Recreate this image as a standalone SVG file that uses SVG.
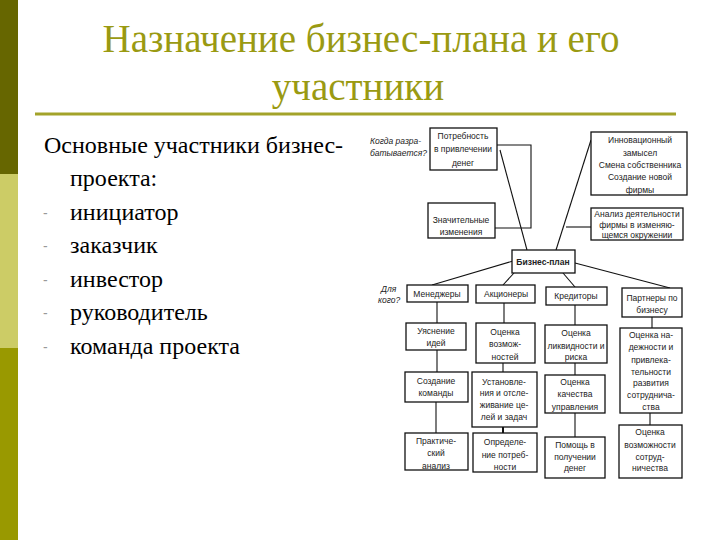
<svg xmlns="http://www.w3.org/2000/svg" width="720" height="540" viewBox="0 0 720 540">
<rect width="720" height="540" fill="#fff"/>
<rect x="0" y="0" width="18" height="174" fill="#666600"/>
<rect x="0" y="174" width="18" height="174" fill="#cccc66"/>
<rect x="0" y="348" width="18" height="192" fill="#999900"/>
<text x="361" y="52" font-family="Times New Roman" font-size="39" fill="#9a9a12" text-anchor="middle">Назначение бизнес-плана и его</text>
<text x="358" y="100" font-family="Times New Roman" font-size="39" fill="#9a9a12" text-anchor="middle">участники</text>
<line x1="35" y1="114" x2="676" y2="114" stroke="#a3a32a" stroke-width="3"/>
<text x="44" y="153" font-family="Times New Roman" font-size="24">Основные участники бизнес-</text>
<text x="70" y="186" font-family="Times New Roman" font-size="24">проекта:</text>
<text x="70" y="220" font-family="Times New Roman" font-size="24">инициатор</text>
<text x="70" y="253" font-family="Times New Roman" font-size="24">заказчик</text>
<text x="70" y="287" font-family="Times New Roman" font-size="24">инвестор</text>
<text x="70" y="320" font-family="Times New Roman" font-size="24">руководитель</text>
<text x="70" y="354" font-family="Times New Roman" font-size="24">команда проекта</text>
<g font-family="Liberation Sans" font-size="14" fill="#999">
<text x="43" y="218">-</text>
<text x="43" y="251">-</text>
<text x="43" y="285">-</text>
<text x="43" y="318">-</text>
<text x="43" y="352">-</text>
</g>

<g id="connectors" stroke="#111" stroke-width="1.1" fill="none">
<polyline points="497,145 531,145 531,228 495,228"/>
<line x1="500" y1="150" x2="527" y2="250"/>
<line x1="591" y1="140" x2="556" y2="250"/>
<line x1="566" y1="227" x2="591" y2="227"/>
<line x1="513" y1="261" x2="432" y2="285"/>
<line x1="514" y1="273" x2="503" y2="285"/>
<line x1="563" y1="273" x2="575" y2="287"/>
<line x1="575" y1="263" x2="670" y2="288"/>
<line x1="437" y1="302" x2="437" y2="323"/>
<line x1="437" y1="350" x2="437" y2="372"/>
<line x1="436" y1="402" x2="436" y2="433"/>
<line x1="504" y1="303" x2="504" y2="323"/>
<line x1="503" y1="363" x2="503" y2="372"/>
<line x1="503" y1="427" x2="503" y2="433" stroke-width="2"/>
<line x1="575" y1="305" x2="575" y2="325"/>
<line x1="575" y1="363" x2="575" y2="375"/>
<line x1="575" y1="413" x2="575" y2="437"/>
<line x1="652" y1="317" x2="652" y2="328"/>
<line x1="650" y1="413" x2="650" y2="425"/>
</g>

<g font-family="Liberation Sans" font-size="8.5" font-style="italic" fill="#222">
<text x="370" y="144">Когда разра-</text>
<text x="370" y="156">батывается?</text>
<text x="381" y="292">Для</text>
<text x="378" y="303">кого?</text>
</g>

<g font-family="Liberation Sans" font-size="8.5" fill="#222" text-anchor="middle">
<g fill="#fff" stroke="#111" stroke-width="1.3">
<rect id="r-potrebnost" x="430" y="128" width="67" height="42"/>
<rect id="r-izmeneniya" x="428" y="203" width="67" height="35"/>
<rect id="r-innov" x="591" y="132" width="96" height="63"/>
<rect id="r-analiz" x="591" y="208" width="92" height="32"/>
<rect id="r-plan" x="512" y="250" width="63" height="23"/>
<rect id="r-menedzhery" x="407" y="285" width="61" height="17"/>
<rect id="r-aktsionery" x="476" y="285" width="59" height="18"/>
<rect id="r-kreditory" x="546" y="287" width="61" height="18"/>
<rect id="r-partnery" x="622" y="288" width="60" height="29"/>
<rect id="r-uyasnenie" x="406" y="323" width="60" height="27"/>
<rect id="r-otsenka-vozm" x="476" y="323" width="59" height="40"/>
<rect id="r-otsenka-likv" x="545" y="325" width="62" height="38"/>
<rect id="r-otsenka-nad" x="620" y="328" width="62" height="85"/>
<rect id="r-sozdanie" x="405" y="372" width="63" height="30"/>
<rect id="r-ustanovlenie" x="472" y="372" width="65" height="55"/>
<rect id="r-kachestvo" x="545" y="375" width="60" height="38"/>
<rect id="r-vozm-sotr" x="619" y="425" width="63" height="53"/>
<rect id="r-praktich" x="405" y="433" width="63" height="37"/>
<rect id="r-opredelenie" x="473" y="433" width="64" height="39"/>
<rect id="r-pomosch" x="545" y="437" width="60" height="41"/>
</g>
<g id="n-potrebnost"><text x="463" y="139">Потребность</text><text x="463" y="152">в привлечении</text><text x="463" y="166">денег</text></g>
<g id="n-izmeneniya"><text x="461" y="223">Значительные</text><text x="461" y="235">изменения</text></g>
<g id="n-innov"><text x="640" y="143">Инновационный</text><text x="640" y="156">замысел</text><text x="640" y="168">Смена собственника</text><text x="640" y="180">Создание новой</text><text x="640" y="193">фирмы</text></g>
<g id="n-analiz"><text x="637" y="217">Анализ деятельности</text><text x="637" y="228">фирмы в изменяю-</text><text x="637" y="238">щемся окружении</text></g>
<g id="n-plan"><text x="543" y="265" font-weight="bold">Бизнес-план</text></g>
<g id="n-menedzhery"><text x="437" y="297">Менеджеры</text></g>
<g id="n-aktsionery"><text x="506" y="297">Акционеры</text></g>
<g id="n-kreditory"><text x="576" y="299">Кредиторы</text></g>
<g id="n-partnery"><text x="652" y="301">Партнеры по</text><text x="652" y="313">бизнесу</text></g>
<g id="n-uyasnenie"><text x="436" y="334">Уяснение</text><text x="436" y="346">идей</text></g>
<g id="n-otsenka-vozm"><text x="505" y="335">Оценка</text><text x="505" y="347">возмож-</text><text x="505" y="360">ностей</text></g>
<g id="n-otsenka-likv"><text x="576" y="336">Оценка</text><text x="576" y="349">ликвидности и</text><text x="576" y="360">риска</text></g>
<g id="n-otsenka-nad"><text x="651" y="338">Оценка на-</text><text x="651" y="350">дежности и</text><text x="651" y="363">привлека-</text><text x="651" y="375">тельности</text><text x="651" y="386">развития</text><text x="651" y="398">сотруднича-</text><text x="651" y="410">ства</text></g>
<g id="n-sozdanie"><text x="436" y="384">Создание</text><text x="436" y="396">команды</text></g>
<g id="n-ustanovlenie"><text x="504" y="385">Установле-</text><text x="504" y="396">ния и отсле-</text><text x="504" y="408">живание це-</text><text x="504" y="420">лей и задач</text></g>
<g id="n-kachestvo"><text x="575" y="385">Оценка</text><text x="575" y="397">качества</text><text x="575" y="410">управления</text></g>
<g id="n-vozm-sotr"><text x="650" y="435">Оценка</text><text x="650" y="448">возможности</text><text x="650" y="460">сотруд-</text><text x="650" y="471">ничества</text></g>
<g id="n-praktich"><text x="436" y="444">Практиче-</text><text x="436" y="456">ский</text><text x="436" y="469">анализ</text></g>
<g id="n-opredelenie"><text x="505" y="445">Определе-</text><text x="505" y="458">ние потреб-</text><text x="505" y="470">ности</text></g>
<g id="n-pomosch"><text x="575" y="448">Помощь в</text><text x="575" y="460">получении</text><text x="575" y="471">денег</text></g>
</g>
</svg>
